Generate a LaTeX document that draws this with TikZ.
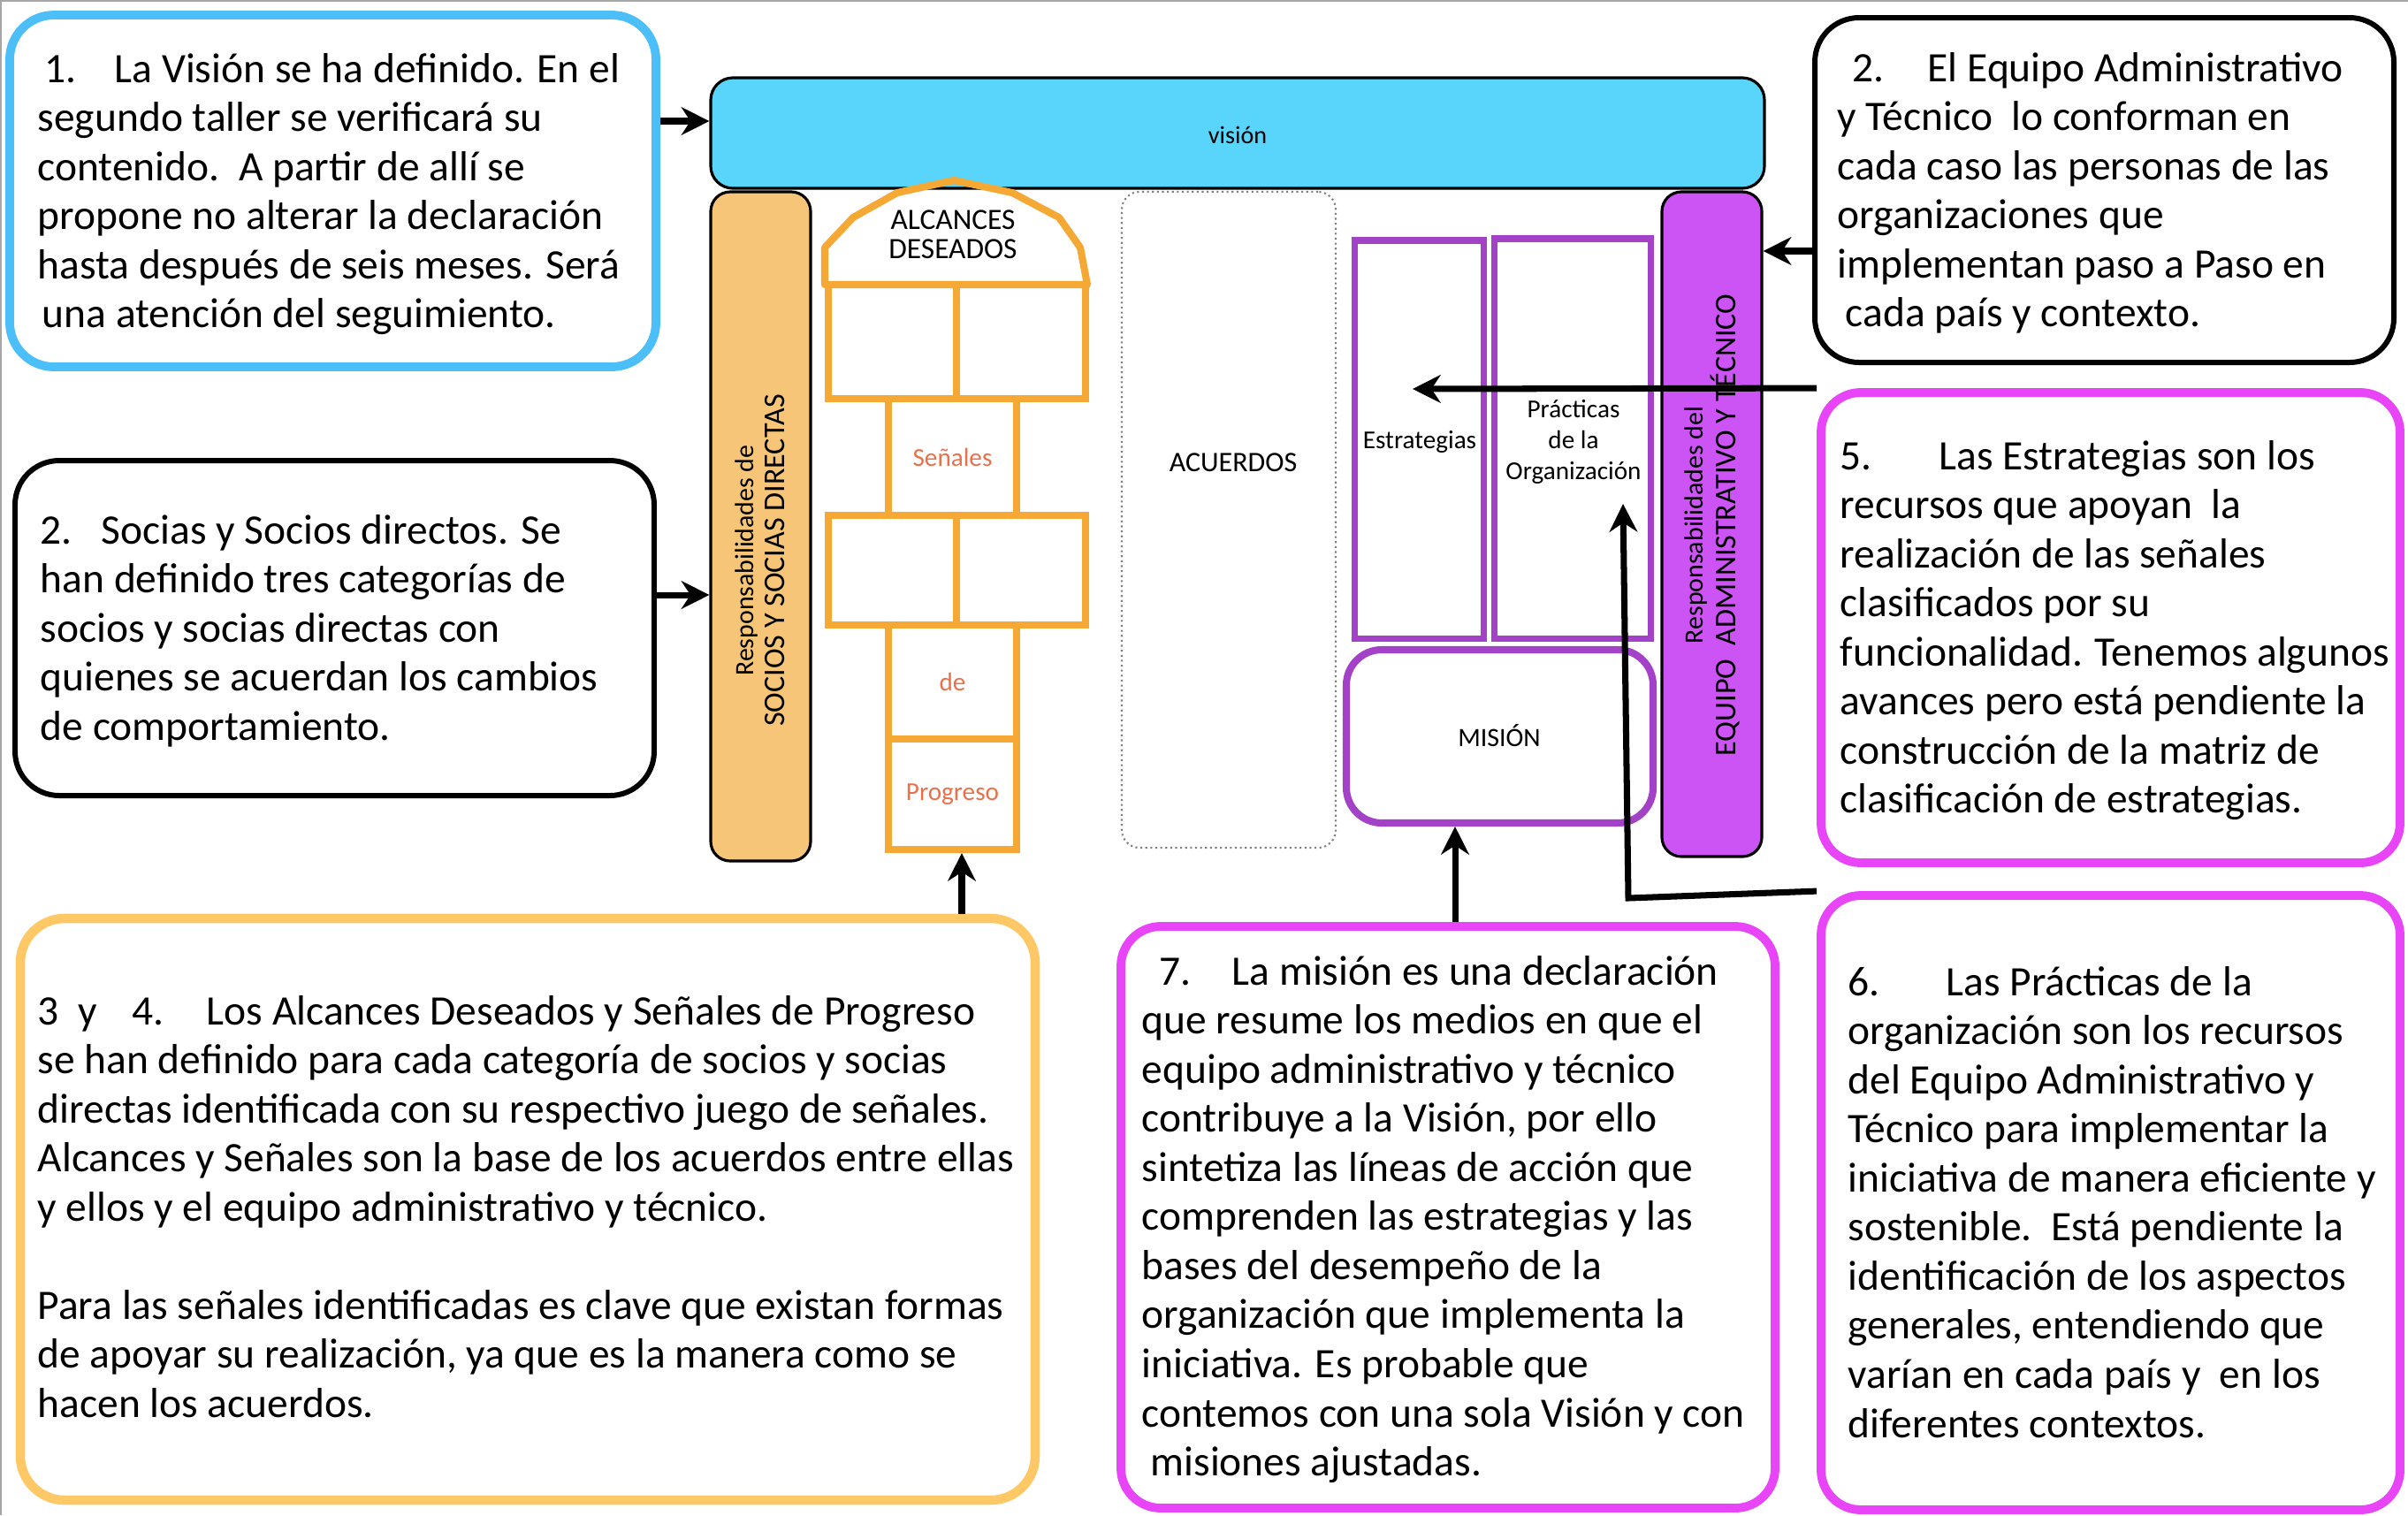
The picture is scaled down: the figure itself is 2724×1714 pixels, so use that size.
\documentclass[tikz,border=0pt]{standalone}
\usepackage{fontspec}
\setmainfont{Carlito}
\usetikzlibrary{fit,arrows.meta}
\definecolor{vblue}{HTML}{4CBEF8}
\definecolor{vfill}{HTML}{59D4FA}
\definecolor{pfill}{HTML}{F7C577}
\definecolor{hop}{HTML}{F5A834}
\definecolor{senal}{HTML}{E8704A}
\definecolor{obox}{HTML}{FFC867}
\definecolor{purp}{HTML}{A342C6}
\definecolor{pfilltwo}{HTML}{CD54F4}
\definecolor{mag}{HTML}{E845F8}
\begin{document}
\begin{tikzpicture}[x=0.01cm,y=-0.01cm,
  bluebox/.style={inner sep=0pt,draw=vblue,line width=2.8pt,rounded corners=0.5cm},
  blackbox/.style={inner sep=0pt,draw=black,line width=1.7pt,rounded corners=0.5cm},
  orangebox/.style={inner sep=0pt,draw=obox,line width=3pt,rounded corners=0.5cm},
  magbox/.style={inner sep=0pt,draw=mag,line width=2.8pt,rounded corners=0.45cm},
  pillar/.style={inner sep=0pt,draw=black,line width=0.9pt,rounded corners=0.22cm},
  hopbox/.style={inner sep=0pt,draw=hop,line width=2.3pt},
  purpbox/.style={inner sep=0pt,draw=purp,line width=2pt},
  txt/.style={anchor=base west,inner sep=0pt,font=\fontsize{13.5pt}{15.8pt}\selectfont},
  hoptxt/.style={inner sep=0pt,text=senal,font=\fontsize{8.3pt}{10pt}\selectfont},
  arr/.style={-{Stealth[length=9pt,width=9pt]},line width=2pt}]
\useasboundingbox (0,0) rectangle (2724,1714);
\draw[gray!70,line width=0.6pt] (1,1714) -- (1,1) -- (2724,1);

% text boxes
\node[bluebox,fit={(11,17) (742,415)}] (b1) {};
\node[blackbox,fit={(17,521) (740,900)}] (b2) {};
\node[blackbox,fit={(2053,20) (2708,410)}] (b2r) {};
\node[orangebox,fit={(23,1039) (1171,1697)}] (b34) {};
\node[magbox,fit={(1268,1048) (2008,1706)}] (b7) {};
\node[magbox,fit={(2060,444) (2715,976)}] (b5) {};
\node[magbox,fit={(2060,1013) (2715,1708)}] (b6) {};

\node[txt] (t1) at (42,93) {\parbox[t]{8cm}{\raggedright
\hspace*{0.08cm}\makebox[0.79cm][l]{1.}La Visión se ha definido. En el\\
segundo taller se verificará su\\
contenido.\ \ A partir de allí se\\
propone no alterar la declaración\\
hasta después de seis meses. Será\\
\hspace*{0.05cm}una atención del seguimiento.}};

\node[txt] (t2) at (45,615) {\parbox[t]{8cm}{\raggedright
\makebox[0.69cm][l]{2.}Socias y Socios directos. Se\\
han definido tres categorías de\\
socios y socias directas con\\
quienes se acuerdan los cambios\\
de comportamiento.}};

\node[txt] (t2r) at (2078,92) {\parbox[t]{7cm}{\raggedright
\hspace*{0.17cm}\makebox[0.85cm][l]{2.}El Equipo Administrativo\\
y Técnico\ \ lo conforman en\\
cada caso las personas de las\\
organizaciones que\\
implementan paso a Paso en\\
\hspace*{0.09cm}cada país y contexto.}};

\node[txt] (t34) at (42,1159) {\parbox[t]{12.5cm}{\raggedright
\makebox[0.46cm][l]{3}\makebox[0.61cm][l]{y}\makebox[0.84cm][l]{4.}Los Alcances Deseados y Señales de Progreso\\
se han definido para cada categoría de socios y socias\\
directas identificada con su respectivo juego de señales.\\
Alcances y Señales son la base de los acuerdos entre ellas\\
y ellos y el equipo administrativo y técnico.\\[15.8pt]
Para las señales identificadas es clave que existan formas\\
de apoyar su realización, ya que es la manera como se\\
hacen los acuerdos.}};

\node[txt] (t7) at (1291,1114) {\parbox[t]{8cm}{\raggedright
\hspace*{0.2cm}\makebox[0.82cm][l]{7.}La misión es una declaración\\
que resume los medios en que el\\
equipo administrativo y técnico\\
contribuye a la Visión, por ello\\
sintetiza las líneas de acción que\\
comprenden las estrategias y las\\
bases del desempeño de la\\
organización que implementa la\\
iniciativa. Es probable que\\
contemos con una sola Visión y con\\
\hspace*{0.1cm}misiones ajustadas.}};

\node[txt] (t5) at (2081,531) {\parbox[t]{7cm}{\raggedright
\makebox[1.12cm][l]{5.}Las Estrategias son los\\
recursos que apoyan\ \ la\\
realización de las señales\\
clasificados por su\\
funcionalidad.\hspace{0.14cm}Tenemos algunos\\
avances pero está pendiente la\\
construcción de la matriz de\\
clasificación de estrategias.}};

\node[txt] (t6) at (2090,1126) {\parbox[t]{7cm}{\raggedright
\makebox[1.11cm][l]{6.}Las Prácticas de la\\
organización son los recursos\\
del Equipo Administrativo y\\
Técnico para implementar la\\
iniciativa de manera eficiente y\\
sostenible.\ \ Está pendiente la\\
identificación de los aspectos\\
generales, entendiendo que\\
varían en cada país y\ \ en los\\
diferentes contextos.}};

% central diagram
\node[inner sep=0pt,draw=black,line width=0.9pt,fill=vfill,rounded corners=0.25cm,fit={(804,88) (1996,213)}] (vis) {};
\node[font=\fontsize{8pt}{10pt}\selectfont] (tvis) at (1400,153) {visión};

\node[pillar,fill=pfill,fit={(804,217) (917,974)}] (op) {};
\node[rotate=90,align=center,inner sep=0pt,font=\fontsize{8.5pt}{10pt}\selectfont] (top) at (860,634)
  {Responsabilidades de\\{\fontsize{9.7pt}{10pt}\selectfont SOCIOS Y SOCIAS DIRECTAS}};

\node[pillar,fill=pfilltwo,fit={(1880,217) (1993,969)}] (pp) {};
\node[rotate=90,align=center,inner sep=0pt,font=\fontsize{8.5pt}{10.5pt}\selectfont] (tpp) at (1937,594)
  {Responsabilidades del\\{\fontsize{9.7pt}{10.5pt}\selectfont EQUIPO\ \ ADMINISTRATIVO Y TÉCNICO}};

\node[inner sep=0pt,draw=gray,densely dotted,line width=0.6pt,rounded corners=0.2cm,fit={(1269,217) (1511,959)}] (acu) {};
\node[font=\fontsize{9.1pt}{10pt}\selectfont] (tacu) at (1395,523) {ACUERDOS};

\node[purpbox,fit={(1532,272) (1678,722)}] (est) {};
\node[font=\fontsize{8.3pt}{10pt}\selectfont] (test) at (1606,500) {Estrategias};
\node[purpbox,fit={(1690,270) (1867,722)}] (pra) {};
\node[align=center,font=\fontsize{8.3pt}{10pt}\selectfont] (tpra) at (1780,500) {Prácticas\\de la\\Organización};
\node[purpbox,line width=2.3pt,rounded corners=0.4cm,fit={(1523,735) (1870,931)}] (mis) {};
\node[font=\fontsize{8.5pt}{10pt}\selectfont] (tmis) at (1696,832) {MISIÓN};

% hopscotch
\draw[hop,line width=2.3pt,line join=round] (933,322) -- (933,280) -- (965,246) -- (1015,218) -- (1079,204)
  -- (1145,218) -- (1198,246) -- (1222,280) -- (1230,322) -- cycle;
\node[align=center,inner sep=0pt,font=\fontsize{9.5pt}{9.4pt}\selectfont] (talc) at (1078,265) {ALCANCES\\DESEADOS};
\node[hopbox,fit={(937,322) (1082,451)}] (h1l) {};
\node[hopbox,fit={(1082,322) (1228,451)}] (h1r) {};
\node[hopbox,fit={(1005,451) (1150,583)}] (hs) {};
\node[hopbox,fit={(937,583) (1082,707)}] (h3l) {};
\node[hopbox,fit={(1082,583) (1228,707)}] (h3r) {};
\node[hopbox,fit={(1005,707) (1150,836)}] (hd) {};
\node[hopbox,fit={(1005,836) (1150,961)}] (hp) {};
\node[hoptxt] (ths) at (hs) {Señales};
\node[hoptxt] (thd) at (hd) {de};
\node[hoptxt] (thp) at (hp) {Progreso};

% connectors
\coordinate (ya) at (0,137);
\coordinate (yb) at (0,673);
\coordinate (yc) at (0,284);
\coordinate (xa) at (1646,0);
\coordinate (xb) at (1088,0);
\coordinate (c5e) at (1598,440);
\coordinate (c6a) at (1842,1016);
\coordinate (c6b) at (1836,570);
\draw[arr] (b1.east |- ya) -- (vis.west |- ya);
\draw[arr] (b2.east |- yb) -- (op.west |- yb);
\draw[arr] (b2r.west |- yc) -- (pp.east |- yc);
\draw[arr] (b5.north west) -- (c5e);
\draw[arr] (b6.north west) -- (c6a) -- (c6b);
\draw[arr] (b7.north -| xa) -- (mis.south -| xa);
\draw[arr] (b34.north -| xb) -- (hp.south -| xb);
\end{tikzpicture}
\end{document}
